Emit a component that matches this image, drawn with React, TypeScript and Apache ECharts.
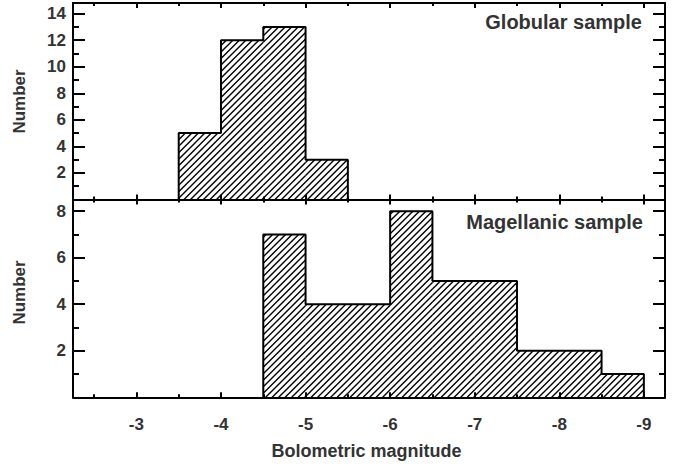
import React, { useEffect, useRef } from "react";
import * as echarts from "echarts";

// ---- data ----
const binWidth = 0.5;
const globularBinStarts = [-3.5, -4.0, -4.5, -5.0];
const globularCounts = [5, 12, 13, 3];
const magellanicBinStarts = [-4.5, -5.0, -5.5, -6.0, -6.5, -7.0, -7.5, -8.0, -8.5];
const magellanicCounts = [7, 4, 4, 8, 5, 5, 2, 2, 1];
const panelLabels = ["Globular sample", "Magellanic sample"];
const xAxisTitle = "Bolometric magnitude";
const yAxisTitle = "Number";

const X_MIN = -9.25;
const X_MAX = -2.25;
const TOP_Y_MAX = 14.8;
const BOTTOM_Y_MAX = 8.5;

const FONT = '"Liberation Sans", Arial, Helvetica, sans-serif';
const TEXT = "#333";
const HATCH = 6.5;

function binData(starts: number[], counts: number[]) {
  return starts.map((s, i) => [s, s - binWidth, counts[i]]);
}

function outline(starts: number[], counts: number[]) {
  const pts: number[][] = [];
  starts.forEach((s, i) => {
    const e = s - binWidth;
    if (i === 0) pts.push([s, 0]);
    pts.push([s, counts[i]]);
    pts.push([e, counts[i]]);
    if (i === starts.length - 1) pts.push([e, 0]);
  });
  return pts;
}

function renderHatch(params: any, api: any) {
  const s = api.value(0);
  const e = api.value(1);
  const c = api.value(2);
  const p0 = api.coord([s, c]);
  const p1 = api.coord([e, 0]);
  const xa = Math.min(p0[0], p1[0]);
  const xb = Math.max(p0[0], p1[0]);
  const ya = Math.min(p0[1], p1[1]);
  const yb = Math.max(p0[1], p1[1]);
  const children: any[] = [];
  const kStart = Math.ceil((xa + ya) / HATCH);
  const kEnd = Math.floor((xb + yb) / HATCH);
  for (let k = kStart; k <= kEnd; k++) {
    const cc = k * HATCH;
    const xl = Math.max(xa, cc - yb);
    const xr = Math.min(xb, cc - ya);
    if (xr - xl > 0.3) {
      children.push({
        type: "line",
        silent: true,
        shape: { x1: xl, y1: cc - xl, x2: xr, y2: cc - xr },
        style: { stroke: "#000", lineWidth: 1.4 },
      });
    }
  }
  return { type: "group", children };
}

function xAxis(gridIndex: number, position: "top" | "bottom", labels: boolean) {
  return {
    type: "value",
    gridIndex,
    position,
    min: X_MIN,
    max: X_MAX,
    splitNumber: 7,
    inverse: true,
    axisLine: { show: true, onZero: false, lineStyle: { color: "#000", width: 2 } },
    axisTick: { show: true, inside: true, length: 5, lineStyle: { color: "#000", width: 2 } },
    minorTick: { show: true, splitNumber: 2, length: 3, lineStyle: { color: "#000", width: 2 } },
    splitLine: { show: false },
    minorSplitLine: { show: false },
    axisLabel: {
      show: labels,
      margin: 19,
      color: TEXT,
      fontSize: 17,
      fontWeight: "bold",
      fontFamily: FONT,
      formatter: (v: number) => (Number.isInteger(v) ? String(v) : ""),
    },
  };
}

function yAxis(gridIndex: number, position: "left" | "right", max: number, labels: boolean) {
  return {
    type: "value",
    gridIndex,
    position,
    min: 0,
    max,
    interval: 2,
    axisLine: { show: true, onZero: false, lineStyle: { color: "#000", width: 2 } },
    axisTick: { show: true, inside: true, length: 12, lineStyle: { color: "#000", width: 2 } },
    minorTick: { show: true, splitNumber: 2, length: 6, lineStyle: { color: "#000", width: 2 } },
    splitLine: { show: false },
    minorSplitLine: { show: false },
    axisLabel: {
      show: labels,
      margin: 7,
      color: TEXT,
      fontSize: 17,
      fontWeight: "bold",
      fontFamily: FONT,
      formatter: (v: number) => (v > 0 && Number.isInteger(v) ? String(v) : ""),
    },
  };
}

function textEl(text: string, x: number, y: number, size: number, align: string, rotation = 0) {
  return {
    type: "text",
    x,
    y,
    rotation,
    silent: true,
    style: {
      text,
      fill: TEXT,
      fontSize: size,
      fontWeight: "bold",
      fontFamily: FONT,
      textAlign: align,
      textVerticalAlign: "middle",
    },
  };
}

export default function App() {
  const ref = useRef<HTMLDivElement>(null);
  useEffect(() => {
    if (!ref.current) return;
    const chart = echarts.init(ref.current, undefined, { renderer: "svg" });
    const option: any = {
      animation: false,
      backgroundColor: "#fff",
      grid: [
        { left: 73, right: 15, top: 3, height: 196.5, outerBoundsMode: "none" },
        { left: 73, right: 15, top: 199.5, height: 197.8, outerBoundsMode: "none" },
      ],
      xAxis: [
        xAxis(0, "bottom", false),
        xAxis(0, "top", false),
        xAxis(1, "bottom", true),
        xAxis(1, "top", false),
      ],
      yAxis: [
        yAxis(0, "left", TOP_Y_MAX, true),
        yAxis(0, "right", TOP_Y_MAX, false),
        yAxis(1, "left", BOTTOM_Y_MAX, true),
        yAxis(1, "right", BOTTOM_Y_MAX, false),
      ],
      series: [
        {
          type: "custom",
          xAxisIndex: 0,
          yAxisIndex: 0,
          renderItem: renderHatch,
          data: binData(globularBinStarts, globularCounts),
          z: 2,
        },
        {
          type: "line",
          xAxisIndex: 0,
          yAxisIndex: 0,
          data: outline(globularBinStarts, globularCounts),
          showSymbol: false,
          symbol: "none",
          lineStyle: { color: "#000", width: 2 },
          z: 3,
        },
        {
          type: "custom",
          xAxisIndex: 2,
          yAxisIndex: 2,
          renderItem: renderHatch,
          data: binData(magellanicBinStarts, magellanicCounts),
          z: 2,
        },
        {
          type: "line",
          xAxisIndex: 2,
          yAxisIndex: 2,
          data: outline(magellanicBinStarts, magellanicCounts),
          showSymbol: false,
          symbol: "none",
          lineStyle: { color: "#000", width: 2 },
          z: 3,
        },
      ],
      graphic: [
        textEl(panelLabels[0], 642, 22, 20, "right"),
        textEl(panelLabels[1], 643, 222, 20, "right"),
        textEl(yAxisTitle, 19, 101.5, 17, "center", Math.PI / 2),
        textEl(yAxisTitle, 19, 292.5, 17, "center", Math.PI / 2),
        textEl(xAxisTitle, 366.5, 451, 18, "center"),
      ],
    };
    chart.setOption(option);
    return () => chart.dispose();
  }, []);
  return (
    <div
      ref={ref}
      style={{ position: "fixed", left: 0, top: 0, width: 680, height: 466, background: "#fff" }}
    />
  );
}
